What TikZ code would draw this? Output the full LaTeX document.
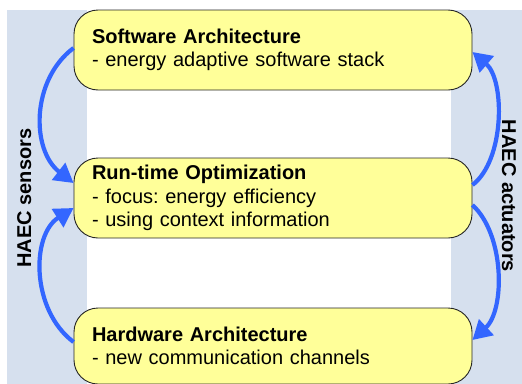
\documentclass[tikz,border=0pt]{standalone}
\usepackage{fontspec}
\setmainfont{Liberation Sans}
\usetikzlibrary{arrows.meta,calc,backgrounds}
\frenchspacing

\definecolor{bandblue}{RGB}{214,224,238}
\definecolor{boxyellow}{RGB}{255,255,153}
\definecolor{flowblue}{RGB}{51,102,255}

\tikzset{
  layerbox/.style={draw=black!85, line width=0.9pt, fill=boxyellow,
    rounded corners=24pt, minimum width=398pt, inner xsep=18pt,
    align=left, font=\fontsize{20}{23.5}\selectfont},
  flow/.style={draw=flowblue, line width=4.2pt,
    -{Triangle[length=19pt,width=21pt]}},
  sidelabel/.style={font=\fontsize{20}{24}\selectfont\bfseries, anchor=base},
}

\begin{document}
\begin{tikzpicture}[x=1pt,y=-1pt]
  \useasboundingbox (0,0) rectangle (522,383);
  \clip (0,0) rectangle (522,383);

  % side bands behind everything
  \fill[bandblue] (7,10) rectangle (87,390);
  \fill[bandblue] (451,10) rectangle (530,390);

  % the three layers
  \node[layerbox, minimum height=80pt, text width=362pt] (sw) at (273,50)
    {\textbf{Software Architecture}\\- energy adaptive software stack};
  \node[layerbox, minimum height=80pt, text width=362pt] (rt) at (273,198)
    {\textbf{Run-time Optimization}\\- focus: energy efficiency\\- using context information};
  \node[layerbox, minimum height=76pt, text width=362pt] (hw) at (273,346)
    {\textbf{Hardware Architecture}\\- new communication channels};

  % sensor side
  \draw[flow] ($(sw.west)+(0,-2)$) .. controls (31,80) and (31,150) .. ($(rt.west)+(0,-15)$);
  \draw[flow] ($(hw.west)+(0,-4)$) .. controls (31,310) and (31,235) .. ($(rt.west)+(0,10)$);

  % actuator side
  \draw[flow] ($(rt.east)+(0,-13)$) .. controls (505,160) and (505,80) .. ($(sw.east)+(0,2)$);
  \draw[flow] ($(rt.east)+(0,7)$) .. controls (505,235) and (505,310) .. ($(hw.east)+(0,-6)$);

  % side labels
  \node[sidelabel, rotate=90] (sens) at (31,198) {HAEC sensors};
  \node[sidelabel, rotate=-90] (act) at (502,196) {HAEC actuators};
\end{tikzpicture}
\end{document}
